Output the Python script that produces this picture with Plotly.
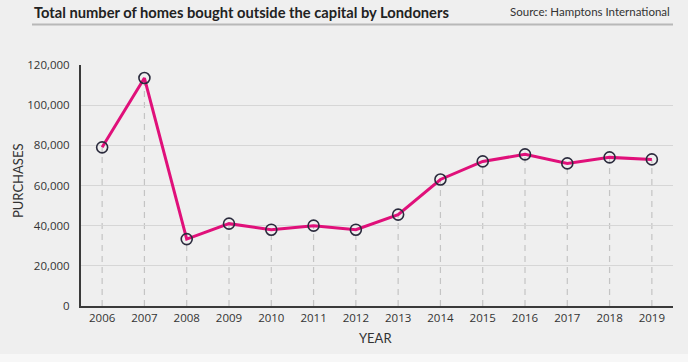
import plotly.graph_objects as go

years = [2006, 2007, 2008, 2009, 2010, 2011, 2012, 2013, 2014, 2015, 2016, 2017, 2018, 2019]
purchases = [79000, 113500, 33300, 41000, 38000, 40000, 38000, 45500, 63000, 72000, 75500, 71000, 74000, 73000]
y_ticks = [0, 20000, 40000, 60000, 80000, 100000, 120000]
y_tick_labels = ["0", "20,000", "40,000", "60,000", "80,000", "100,000", "120,000"]

title_text = "Total number of homes bought outside the capital by Londoners"
source_text = "Source: Hamptons International"

W, H = 688, 362
ml, mr, mt, mb = 81, 15, 65, 56
pw = W - ml - mr
ph = H - mt - mb

def px_x(p):
    return (p - ml) / pw

def px_y(p):
    return (H - mb - p) / ph

fig = go.Figure()

fig.add_trace(go.Scatter(
    x=years, y=purchases, mode="lines+markers",
    line=dict(color="#e0107a", width=3),
    marker=dict(symbol="circle-open", size=11, color="#2b2b3d", line=dict(width=1.6, color="#2b2b3d")),
    hoverinfo="x+y", showlegend=False,
))

shapes = []
for yr, v in zip(years, purchases):
    shapes.append(dict(type="line", xref="x", yref="y", x0=yr, x1=yr, y0=0, y1=v,
                       line=dict(color="#c4c4c4", width=1.2, dash="6px,5px"), layer="below"))
# title underline
shapes.append(dict(type="line", xref="paper", yref="paper",
                   x0=px_x(32), x1=px_x(673), y0=px_y(24.5), y1=px_y(24.5),
                   line=dict(color="#b8b8b8", width=2), layer="above"))
# bottom light strip
shapes.append(dict(type="rect", xref="paper", yref="paper", x0=-1, x1=2,
                   y0=px_y(366), y1=px_y(354),
                   fillcolor="#f7f7f7", line=dict(width=0), layer="below"))

tick_font = dict(family="Open Sans, sans-serif", size=11.5, color="#333333")

fig.update_layout(
    width=W, height=H,
    margin=dict(l=ml, r=mr, t=mt, b=mb, autoexpand=False),
    paper_bgcolor="#efefef", plot_bgcolor="#efefef",
    font=dict(family="Lato, Open Sans, sans-serif", color="#333333", size=12.5),
    shapes=shapes,
    xaxis=dict(range=[2005.5, 2019.5], tickmode="array", tickvals=years,
               ticktext=[str(y) for y in years], showgrid=False, zeroline=False,
               showline=True, linecolor="#3a3a3a", linewidth=2, ticks="",
               tickfont=tick_font, automargin=False,
               fixedrange=True),
    yaxis=dict(range=[0, 120000], tickmode="array", tickvals=y_ticks, ticktext=y_tick_labels,
               showgrid=True, gridcolor="#d6d6d6", gridwidth=1, zeroline=False,
               showline=True, linecolor="#3a3a3a", linewidth=2, ticks="",
               ticklabelstandoff=7, tickfont=tick_font, automargin=False,
               fixedrange=True),
    annotations=[
        dict(text="<b>" + title_text + "</b>", xref="paper", yref="paper",
             x=px_x(32), y=px_y(12), xanchor="left", yanchor="middle",
             showarrow=False, font=dict(size=14.7, color="#222222", family="Lato, sans-serif")),
        dict(text=source_text, xref="paper", yref="paper",
             x=px_x(672), y=px_y(12), xanchor="right", yanchor="middle",
             showarrow=False, font=dict(size=11.5, color="#333333", family="Lato, sans-serif")),
        dict(text="YEAR", xref="paper", yref="paper",
             x=px_x(375), y=px_y(338), xanchor="center", yanchor="middle",
             showarrow=False, font=dict(size=13, color="#333333", family="Lato, sans-serif")),
        dict(text="PURCHASES", xref="paper", yref="paper", textangle=-90,
             x=px_x(18), y=px_y(181), xanchor="center", yanchor="middle",
             showarrow=False, font=dict(size=13, color="#333333", family="Lato, sans-serif")),
    ],
)

fig.write_html("out.html", config={"displayModeBar": False},
               post_script="document.body.style.margin='0px';document.body.style.overflow='hidden';")
